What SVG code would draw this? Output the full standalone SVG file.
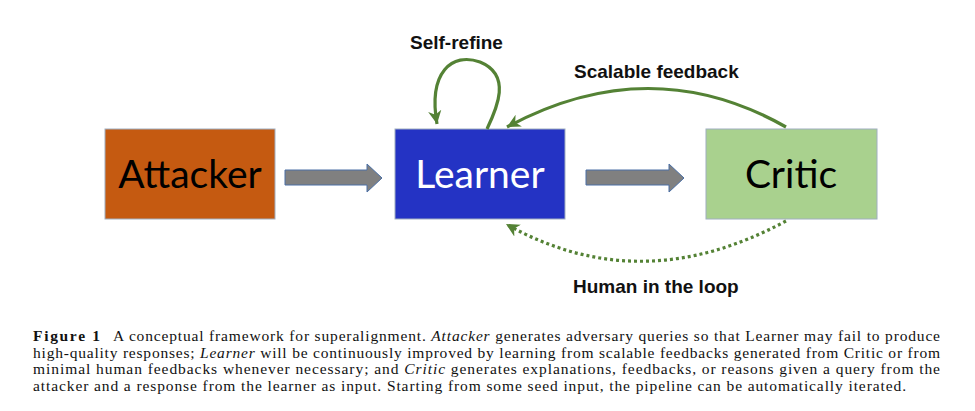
<svg xmlns="http://www.w3.org/2000/svg" width="975" height="411" viewBox="0 0 975 411">
<defs>
<style>
.box{stroke:#A0AEC0;stroke-width:1}
.node{font-family:Lato,"Open Sans","Liberation Sans",sans-serif;font-size:39px;text-anchor:middle}
.lbl{font-family:"Liberation Sans",Arial,sans-serif;font-weight:bold;font-size:19px;fill:#111}
.fat{fill:#808080;stroke:#4A6FA5;stroke-width:1}
.link{fill:none;stroke:#548235;stroke-width:3.2}
.cap{font-family:"Liberation Serif","Times New Roman",serif;font-size:15.5px;fill:#111}
</style>
<marker id="ah2" viewBox="0 0 12 12" refX="10" refY="6" markerWidth="5" markerHeight="5" orient="auto" markerUnits="strokeWidth">
<path d="M0,1 L10,6 L0,11 L3,6 Z" fill="#548235"/>
</marker>
</defs>
<rect width="975" height="411" fill="#fff"/>
<g id="attacker">
<rect class="box" x="105" y="129" width="170" height="90" fill="#C55A11"/>
<text class="node" x="190" y="188" fill="#000">Attacker</text>
</g>
<g id="learner">
<rect class="box" x="395" y="129" width="170" height="90" fill="#2433C4"/>
<text class="node" x="480" y="188" fill="#fff">Learner</text>
</g>
<g id="critic">
<rect class="box" x="706" y="129" width="171" height="90" fill="#A9D18E"/>
<text class="node" x="791" y="188" fill="#000">Critic</text>
</g>
<g id="connectors">
<path class="fat" d="M285,170 H367 V164 L382,178 L367,192 V185 H285 Z"/>
<path class="fat" d="M586,170 H669 V164 L684,178 L669,192 V185 H586 Z"/>
<path class="link" marker-end="url(#ah2)" d="M487,129 C497,108 512,75 480,62 C452,52 428,72 437,124"/>
<path class="link" marker-end="url(#ah2)" d="M786,127 Q650,50 507,127"/>
<path class="link" stroke-dasharray="3,3" stroke-width="3.6" marker-end="url(#ah2)" d="M786,221 Q640,300 506,224"/>
</g>
<g id="labels">
<text class="lbl" x="410" y="49">Self-refine</text>
<text class="lbl" x="574" y="78">Scalable feedback</text>
<text class="lbl" x="573" y="293">Human in the loop</text>
</g>
<g id="caption">
<text class="cap" x="33" y="341" font-weight="bold" textLength="67" lengthAdjust="spacing">Figure 1</text>
<text class="cap" x="113" y="341" textLength="827" lengthAdjust="spacing">A conceptual framework for superalignment. <tspan font-style="italic">Attacker</tspan> generates adversary queries so that Learner may fail to produce</text>
<text class="cap" x="33" y="358" textLength="907" lengthAdjust="spacing">high-quality responses; <tspan font-style="italic">Learner</tspan> will be continuously improved by learning from scalable feedbacks generated from Critic or from</text>
<text class="cap" x="33" y="374" textLength="907" lengthAdjust="spacing">minimal human feedbacks whenever necessary; and <tspan font-style="italic">Critic</tspan> generates explanations, feedbacks, or reasons given a query from the</text>
<text class="cap" x="33" y="391" textLength="873" lengthAdjust="spacing">attacker and a response from the learner as input. Starting from some seed input, the pipeline can be automatically iterated.</text>
</g>
</svg>
